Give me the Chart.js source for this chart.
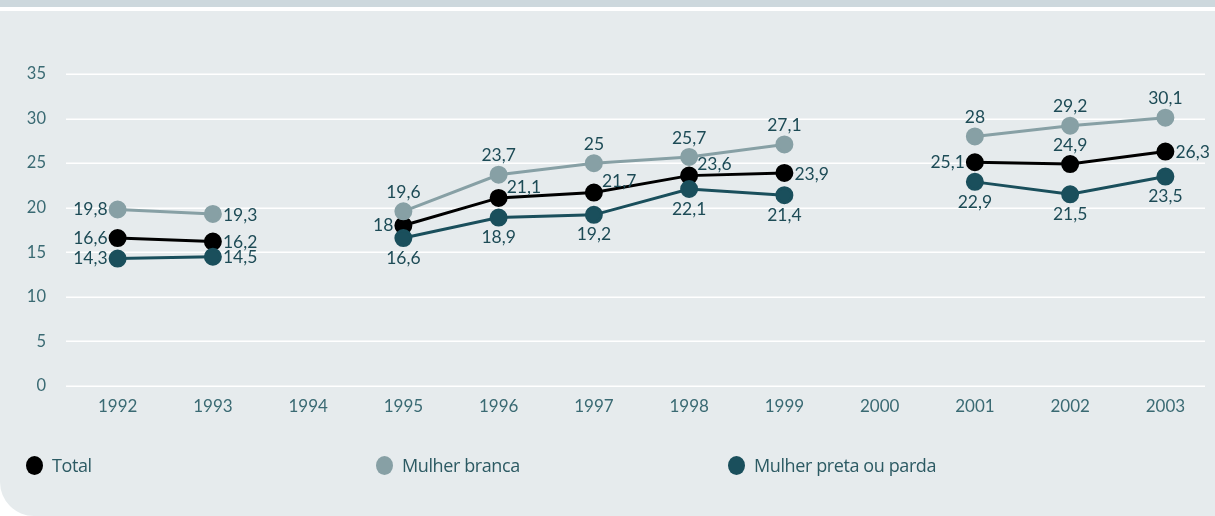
<!DOCTYPE html>
<html>
<head>
<meta charset="utf-8">
<script src="https://cdn.jsdelivr.net/npm/chart.js@4"></script>
<style>
  html, body { margin: 0; padding: 0; width: 1215px; height: 516px; overflow: hidden; background: #ffffff; }
  #strip { position: absolute; left: 0; top: 0; width: 1215px; height: 7px; background: #cdd8dd; }
  #panel { position: absolute; left: 0; top: 11px; width: 1230px; height: 505px; background: #e6ebed; border-bottom-left-radius: 34px; }
  #wrap { position: absolute; left: 0; top: 0; width: 1215px; height: 516px; }
  .leg { position: absolute; top: 454px; height: 22px; display: flex; align-items: center; font-family: "Open Sans", sans-serif; font-size: 18px; color: #2c5a63; letter-spacing: -0.4px; }
  .dot { width: 17px; height: 19px; border-radius: 50%; margin-right: 9px; }
</style>
</head>
<body>
<div id="strip"></div>
<div id="panel"></div>
<div id="wrap"><canvas id="c" width="1215" height="516"></canvas></div>
<div class="leg" style="left:26px"><div class="dot" style="background:#000000"></div><span>Total</span></div>
<div class="leg" style="left:376px"><div class="dot" style="background:#87a0a5"></div><span>Mulher branca</span></div>
<div class="leg" style="left:728px"><div class="dot" style="background:#1a4f5c"></div><span>Mulher preta ou parda</span></div>
<script>
const years = ['1992','1993','1994','1995','1996','1997','1998','1999','2000','2001','2002','2003'];
const total  = [16.6, 16.2, null, 18.0, 21.1, 21.7, 23.6, 23.9, null, 25.1, 24.9, 26.3];
const branca = [19.8, 19.3, null, 19.6, 23.7, 25.0, 25.7, 27.1, null, 28.0, 29.2, 30.1];
const preta  = [14.3, 14.5, null, 16.6, 18.9, 19.2, 22.1, 21.4, null, 22.9, 21.5, 23.5];
const yTicks = [0, 5, 10, 15, 20, 25, 30, 35];

// label placement per point
const placeTotal  = ['left','right',null,'left','aboveRight','aboveRight','aboveRight','right',null,'left','above','right'];
const placeBranca = ['left','right',null,'above','above','above','above','above',null,'above','above','above'];
const placePreta  = ['left','right',null,'below','below','below','below','below',null,'below','below','below'];

const fmt = v => String(v).replace('.', ',');

const gridPlugin = {
  id: 'customGrid',
  beforeDatasetsDraw(chart) {
    const ctx = chart.ctx, y = chart.scales.y;
    ctx.save();
    ctx.strokeStyle = '#ffffff';
    ctx.lineWidth = 1.5;
    yTicks.forEach(t => {
      const py = Math.round(y.getPixelForValue(t)) + 0.25;
      ctx.beginPath(); ctx.moveTo(66, py); ctx.lineTo(1205, py); ctx.stroke();
    });
    ctx.restore();
  }
};

const labelPlugin = {
  id: 'valueLabels',
  afterDatasetsDraw(chart) {
    const ctx = chart.ctx;
    ctx.save();
    ctx.font = '17.5px Lato, "Open Sans", sans-serif';
    ctx.fillStyle = '#1d4b56';
    chart.data.datasets.forEach((ds, di) => {
      const meta = chart.getDatasetMeta(di);
      meta.data.forEach((pt, i) => {
        const v = ds.data[i];
        const pl = ds.places[i];
        if (v === null || !pl) return;
        let x = pt.x, y = pt.y;
        if (pl === 'left') { ctx.textAlign = 'right'; ctx.textBaseline = 'middle'; x -= 10; }
        else if (pl === 'right') { ctx.textAlign = 'left'; ctx.textBaseline = 'middle'; x += 10; y += 1; }
        else if (pl === 'above') { ctx.textAlign = 'center'; ctx.textBaseline = 'middle'; y -= 19; }
        else if (pl === 'below') { ctx.textAlign = 'center'; ctx.textBaseline = 'middle'; y += 20; }
        else if (pl === 'aboveRight') { ctx.textAlign = 'left'; ctx.textBaseline = 'middle'; x += 8; y -= 11; }
        ctx.fillText(fmt(v), x, y);
      });
    });
    ctx.restore();
  }
};

function mk(label, data, color, places) {
  return {
    label, data, places,
    borderColor: color, backgroundColor: color,
    pointBackgroundColor: color, pointBorderColor: color,
    borderWidth: 3, pointRadius: 7.5, pointHoverRadius: 7.5,
    spanGaps: false, tension: 0
  };
}

new Chart(document.getElementById('c'), {
  type: 'line',
  data: {
    labels: years,
    datasets: [
      mk('Mulher branca', branca, '#87a0a5', placeBranca),
      mk('Mulher preta ou parda', preta, '#1a4f5c', placePreta),
      mk('Total', total, '#000000', placeTotal)
    ]
  },
  options: {
    responsive: false,
    animation: false,
    layout: { autoPadding: false, padding: { top: 74, right: 2, left: 0, bottom: 0 } },
    plugins: { legend: { display: false }, tooltip: { enabled: false } },
    scales: {
      x: {
        offset: true,
        grid: { display: false, drawTicks: false },
        border: { display: false },
        ticks: { color: '#3a6a73', font: { family: 'Lato', size: 17 }, padding: 10, maxRotation: 0, autoSkip: false },
        afterFit(s) { s.height = 130; s.paddingLeft = 0; s.paddingRight = 0; }
      },
      y: {
        min: 0, max: 35,
        afterBuildTicks(s) { s.ticks = yTicks.map(v => ({ value: v })); },
        grid: { display: false, drawTicks: false },
        border: { display: false },
        ticks: { color: '#3a6a73', font: { family: 'Lato', size: 16.5 }, padding: 24 },
        afterFit(s) { s.width = 70; }
      }
    }
  },
  plugins: [gridPlugin, labelPlugin]
});
</script>
</body>
</html>
